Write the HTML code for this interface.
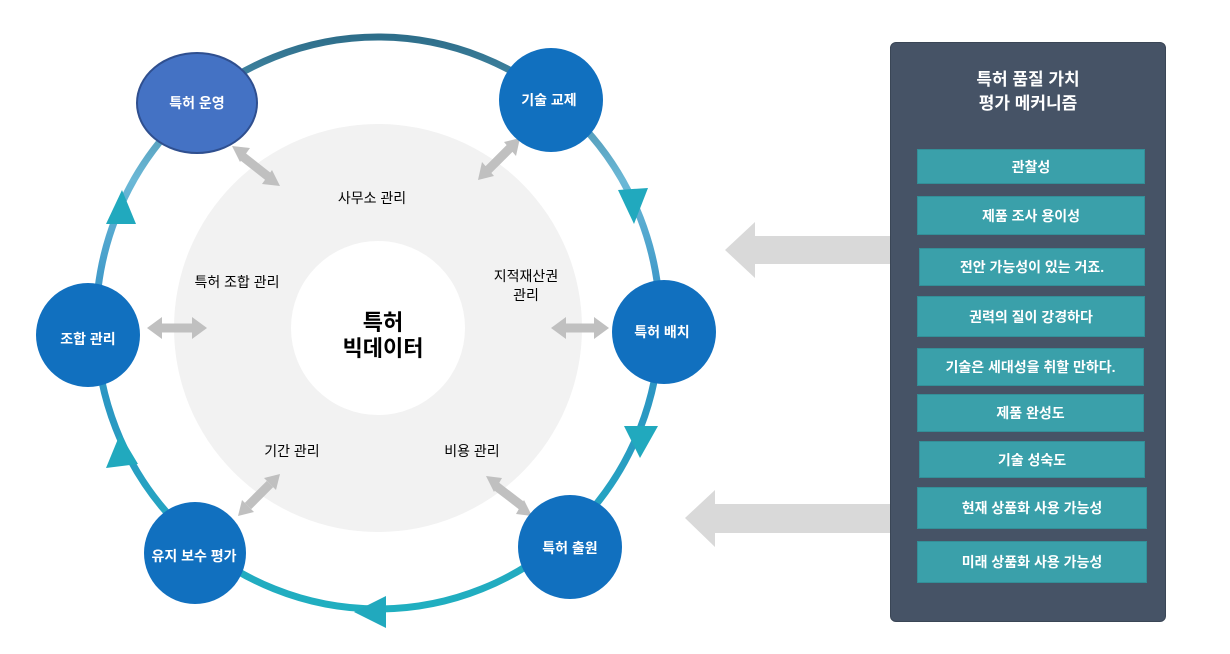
<!DOCTYPE html>
<html><head><meta charset="utf-8"><style>
body{margin:0;background:#fff;width:1230px;height:654px;overflow:hidden;font-family:"Liberation Sans","Noto Sans CJK KR",sans-serif;}
svg{position:absolute;left:0;top:0}
.panel{position:absolute;left:890px;top:42px;width:276px;height:580px;background:#465366;border-radius:6px;border:1px solid #3a4656;box-sizing:border-box}
.title{position:absolute;left:890px;top:68px;width:276px;text-align:center;color:#fff;font-weight:bold;font-size:17px;line-height:24px}
.b{position:absolute;background:#3AA0AA;color:#fff;font-size:14px;font-weight:bold;display:flex;align-items:center;justify-content:center;border:1px solid #338f98;box-sizing:border-box}
</style></head><body>
<svg width="1230" height="654" viewBox="0 0 1230 654" font-family="Liberation Sans, Noto Sans CJK KR, sans-serif">
<defs>
<linearGradient id="g" x1="0" y1="0" x2="0" y2="1">
<stop offset="0" stop-color="#2E6E8A"/><stop offset="0.25" stop-color="#6BB8D6"/><stop offset="0.5" stop-color="#2F8EC4"/><stop offset="1" stop-color="#20AFC0"/>
</linearGradient>
</defs>
<circle cx="378" cy="328" r="204" fill="#F2F2F2"/>
<circle cx="378" cy="328" r="87" fill="#fff"/>
<ellipse cx="378" cy="323" rx="282" ry="286" fill="none" stroke="url(#g)" stroke-width="7"/>
<g fill="#21A9BE">
<polygon points="122,190 106,224 136,224"/>
<polygon points="618,190 648,188 634,224"/>
<polygon points="624,426 658,426 640,458"/>
<polygon points="354,612 386,596 386,628"/>
<polygon points="120,434 106,468 138,464"/>
</g>
<g stroke="#C0C0C0" stroke-width="9" fill="#C0C0C0">
<line x1="242" y1="156" x2="270" y2="178"/><polygon points="232,146 250,148 240,162" stroke="none"/><polygon points="280,186 262,184 272,170" stroke="none"/>
<line x1="510" y1="148" x2="488" y2="170"/><polygon points="520,138 504,142 516,156" stroke="none"/><polygon points="478,180 494,176 482,162" stroke="none"/>
<line x1="160" y1="328" x2="194" y2="328"/><polygon points="147,328 162,317 162,339" stroke="none"/><polygon points="207,328 192,317 192,339" stroke="none"/>
<line x1="564" y1="328" x2="596" y2="328"/><polygon points="551,328 566,317 566,339" stroke="none"/><polygon points="609,328 594,317 594,339" stroke="none"/>
<line x1="248" y1="506" x2="270" y2="484"/><polygon points="238,516 242,500 254,512" stroke="none"/><polygon points="280,474 276,490 264,478" stroke="none"/>
<line x1="496" y1="486" x2="522" y2="506"/><polygon points="486,476 502,478 494,492" stroke="none"/><polygon points="532,516 516,514 524,500" stroke="none"/>
</g>
<g fill="#D9D9D9">
<polygon points="725,250 755,222 755,236 890,236 890,264 755,264 755,278"/>
<polygon points="685,518 715,490 715,504 890,504 890,533 715,533 715,547"/>
</g>
<ellipse cx="197" cy="103" rx="60" ry="50" fill="#4472C4" stroke="#2F4F8F" stroke-width="2"/>
<circle cx="551" cy="100" r="52" fill="#1170BF"/>
<circle cx="664" cy="332" r="52" fill="#1170BF"/>
<circle cx="570" cy="547" r="52" fill="#1170BF"/>
<circle cx="195" cy="553" r="51" fill="#1170BF"/>
<circle cx="88" cy="335" r="52" fill="#1170BF"/>
<g fill="#fff" font-size="14" font-weight="bold" text-anchor="middle">
<text x="197" y="108">특허 운영</text>
<text x="549" y="105">기술 교제</text>
<text x="662" y="337">특허 배치</text>
<text x="570" y="553">특허 출원</text>
<text x="194" y="561">유지 보수 평가</text>
<text x="88" y="344">조합 관리</text>
</g>
<g fill="#000" font-size="14" text-anchor="middle">
<text x="372" y="203">사무소 관리</text>
<text x="237" y="287">특허 조합 관리</text>
<text x="526" y="281">지적재산권</text>
<text x="526" y="300">관리</text>
<text x="292" y="456">기간 관리</text>
<text x="472" y="456">비용 관리</text>
<text x="383" y="330" font-size="22" font-weight="bold">특허</text>
<text x="383" y="356" font-size="22" font-weight="bold">빅데이터</text>
</g>
</svg>
<div class="panel"></div>
<div class="title">특허 품질 가치<br>평가 메커니즘</div>
<div class="b" style="left:917px;top:149px;width:228px;height:35px">관찰성</div>
<div class="b" style="left:917px;top:196px;width:228px;height:39px">제품 조사 용이성</div>
<div class="b" style="left:919px;top:248px;width:226px;height:38px">전안 가능성이 있는 거죠.</div>
<div class="b" style="left:917px;top:296px;width:228px;height:41px">권력의 질이 강경하다</div>
<div class="b" style="left:917px;top:348px;width:227px;height:38px">기술은 세대성을 취할 만하다.</div>
<div class="b" style="left:917px;top:394px;width:227px;height:38px">제품 완성도</div>
<div class="b" style="left:919px;top:441px;width:226px;height:37px">기술 성숙도</div>
<div class="b" style="left:917px;top:487px;width:230px;height:42px">현재 상품화 사용 가능성</div>
<div class="b" style="left:917px;top:541px;width:230px;height:42px">미래 상품화 사용 가능성</div>
</body></html>
